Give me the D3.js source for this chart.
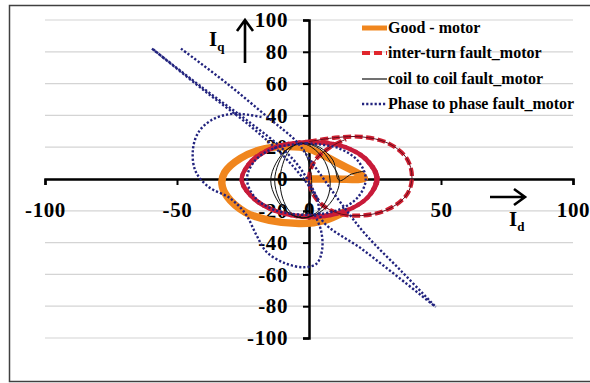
<!DOCTYPE html>
<html>
<head>
<meta charset="utf-8">
<script src="https://cdnjs.cloudflare.com/ajax/libs/d3/7.8.5/d3.min.js"></script>
<style>
  html, body { margin: 0; padding: 0; background: #fff; }
  svg { display: block; }
  text { font-family: "Liberation Serif", "Times New Roman", serif; font-weight: bold; fill: #000; }
</style>
</head>
<body>
<svg id="chart" width="590" height="383"></svg>
<script>
// Park's vector patterns (Id, Iq) for the four motor conditions.

const xTicks = [-100, -50, 0, 50, 100];
const yTicks = [100, 80, 60, 40, 20, 0, -20, -40, -60, -80, -100];

const seriesNames = [
  "Good - motor",
  "inter-turn fault_motor",
  "coil to coil fault_motor",
  "Phase to phase fault_motor"
];

// healthy motor locus
const goodMotor = [
  [0, 0], [10, 0], [21, 0.5], [11, 10], [0, 19], [-8, 20.5], [-17, 19], [-26, 13],
  [-32, 4], [-33, -3], [-31, -11], [-24, -21], [-15, -26], [-3, -28], [6, -26], [13, -21]
];

// inter-turn fault: inner ring (traced twice) and the shifted outer loop
const interTurnRing = [
  [0.5, 23.5], [13, 20.5], [22, 12], [26, 0], [22, -12], [13, -20.5], [0.5, -23.5],
  [-12, -20.5], [-21, -12], [-25.5, 0], [-21, 12], [-12, 20.5],
  [0, 23], [12, 21], [21, 13], [25.5, 1], [22.5, -11], [14, -20], [1, -24],
  [-11, -21], [-20.5, -13], [-25.5, -1], [-22, 11], [-13, 20], [0, 23.5]
];
const interTurnLoop = [
  [0, 23.5], [10, 26], [20, 26.5], [30, 22.5], [37, 13], [39, 1], [37, -10], [30, -19],
  [20, -23], [10, -21], [3, -13], [0, -1], [2, 11], [8, 20], [14, 25]
];

// coil to coil fault: narrow upright loops
const coilToCoil = [
  [21, 5], [16, 3], [11.5, -1], [9, 12], [4, 20], [-2, 22.5], [-8, 19], [-12.5, 10],
  [-14.5, -1], [-12.5, -12], [-8, -21], [-2, -24.5], [4, -21], [9, -13], [11.5, -1],
  [8, 11], [4, 19], [-2.5, 22.5], [-8, 19], [-11.5, 10], [-13, -1], [-11.5, -12],
  [-8, -21], [-2.5, -24.5], [3, -21], [7, -12], [8, -1],
  [6, 11], [1, 20], [-4, 22.5], [-7.5, 18], [-10, 9], [-11, -1], [-10, -12],
  [-7.5, -20], [-4, -24], [-1.5, -20], [0.5, -12], [1, -1], [0, 10], [-2, 19]
];

// phase to phase fault: ring, side loop and the long diagonal excursions
const phaseRing = [
  [-1, 22.5], [11, 19.5], [18.5, 11.5], [21.5, 0], [18.5, -11.5], [11, -19.5], [-1, -22.5],
  [-13, -19.5], [-20.5, -11.5], [-23.5, 0], [-20.5, 11.5], [-13, 19.5], [-1, 22.5]
];
const phaseLoop = [
  [-18, 39], [-29, 41], [-37, 37], [-42, 29], [-44, 18], [-43, 5], [-38, -5], [-30, -12],
  [-24, -22], [-20, -35], [-16, -46], [-9, -53], [-2, -55.5], [3, -53], [5, -44], [4.5, -32], [2, -22]
];
const phaseLineA = [
  [-59.5, 82], [-40, 57], [-22, 35], [-10, 19], [-3, 6], [3, -12], [5, -26], [20, -44], [34, -62], [48, -80.5]
];
const phaseLineB = [
  [-48.5, 82], [-31, 60], [-15, 38], [-5, 24], [0, 13], [6, -1], [12.5, -16], [21.5, -35], [35, -58], [48, -80.5]
];
const phaseLineC = [
  [-59, 81.5], [-40, 56], [-22, 33], [-10, 15], [-2, 0], [4, -14]
];

const svg = d3.select("#chart");

const x = d3.scaleLinear().domain([-100, 100]).range([45, 573]);
const y = d3.scaleLinear().domain([-100, 100]).range([338, 20]);

// outer frame
svg.append("rect")
  .attr("x", 9.5).attr("y", 5.5).attr("width", 600).attr("height", 376)
  .attr("fill", "none").attr("stroke", "#404040").attr("stroke-width", 1.5);

// horizontal gridlines
svg.append("g").selectAll("line").data(yTicks).join("line")
  .attr("x1", x(-100)).attr("x2", x(100))
  .attr("y1", d => y(d)).attr("y2", d => y(d))
  .attr("stroke", "#d4d4d4").attr("stroke-width", 1.2);

// axes crossing at the origin
const fmt = d => String(d);
const xAxis = d3.axisBottom(x).tickValues(xTicks).tickSize(6).tickPadding(17).tickFormat(fmt);
const yAxis = d3.axisLeft(y).tickValues(yTicks).tickSize(6).tickPadding(15).tickFormat(fmt);

const gx = svg.append("g").attr("transform", `translate(0,${y(0)})`).call(xAxis);
const gy = svg.append("g").attr("transform", `translate(${x(0)},0)`).call(yAxis);
[gx, gy].forEach(g => {
  g.select(".domain").attr("stroke", "#000").attr("stroke-width", 2.5);
  g.selectAll(".tick line").attr("stroke", "#000").attr("stroke-width", 2);
  g.selectAll(".tick text")
    .style("font-family", '"Liberation Serif", "Times New Roman", serif')
    .style("font-weight", "bold").style("font-size", "21px")
    .style("letter-spacing", "0.6px").attr("fill", "#000");
});

// curves
const line = d3.line().x(d => x(d[0])).y(d => y(d[1])).curve(d3.curveCatmullRom.alpha(0.5));
const plot = svg.append("g");

plot.append("path").attr("d", line(goodMotor))
  .attr("fill", "none").attr("stroke", "#F0861E").attr("stroke-width", 7.5)
  .attr("stroke-linejoin", "round").attr("stroke-linecap", "round");

// the ring is traversed repeatedly, so its dashes overlap into a solid band
[0, 5.75].forEach(off => {
  plot.append("path").attr("d", line(interTurnRing))
    .attr("fill", "none").attr("stroke", "#C81B3A").attr("stroke-width", 4.2)
    .attr("stroke-dasharray", "8,3.5").attr("stroke-dashoffset", off);
});
plot.append("path").attr("d", line(interTurnLoop))
  .attr("fill", "none").attr("stroke", "#CC1F30").attr("stroke-width", 4.2)
  .attr("stroke-dasharray", "8,3.5");
plot.append("path").attr("d", line(interTurnLoop))
  .attr("fill", "none").attr("stroke", "#6a0a1c").attr("stroke-width", 1);

plot.append("path").attr("d", line(coilToCoil))
  .attr("fill", "none").attr("stroke", "#111").attr("stroke-width", 1);

[phaseRing, phaseLoop, phaseLineA, phaseLineB, phaseLineC].forEach(seg => {
  plot.append("path").attr("d", line(seg))
    .attr("fill", "none").attr("stroke", "#22237E").attr("stroke-width", 2.4)
    .attr("stroke-dasharray", "2.2,2");
});

// legend
const legendY = [28, 53, 79, 104];
const legendStyles = [
  { stroke: "#F0861E", width: 5, dash: null },
  { stroke: "#E0262C", width: 4, dash: "8,4" },
  { stroke: "#111", width: 1.2, dash: null },
  { stroke: "#22237E", width: 2.4, dash: "2.2,2" }
];
const legend = svg.append("g");
seriesNames.forEach((name, i) => {
  const s = legendStyles[i];
  legend.append("line")
    .attr("x1", 362).attr("x2", 387).attr("y1", legendY[i]).attr("y2", legendY[i])
    .attr("stroke", s.stroke).attr("stroke-width", s.width)
    .attr("stroke-dasharray", s.dash);
  legend.append("text")
    .attr("x", 388).attr("y", legendY[i]).attr("dy", "0.34em")
    .style("font-size", "16px").text(name);
});

// axis titles with direction arrows
const iq = svg.append("text").attr("x", 209).attr("y", 46).style("font-size", "21px");
iq.append("tspan").text("I");
iq.append("tspan").attr("dy", 5).style("font-size", "13px").text("q");

const id = svg.append("text").attr("x", 509).attr("y", 226).style("font-size", "21px");
id.append("tspan").text("I");
id.append("tspan").attr("dy", 5).style("font-size", "13px").text("d");

const arrows = svg.append("g").attr("stroke", "#000").attr("stroke-width", 2.6).attr("fill", "none");
arrows.append("path").attr("d", "M245,63 L245,21 M237,31 L245,20 L253,31");
arrows.append("path").attr("d", "M490,197 L524,197 M514,189 L525,197 L514,205");
</script>
</body>
</html>
